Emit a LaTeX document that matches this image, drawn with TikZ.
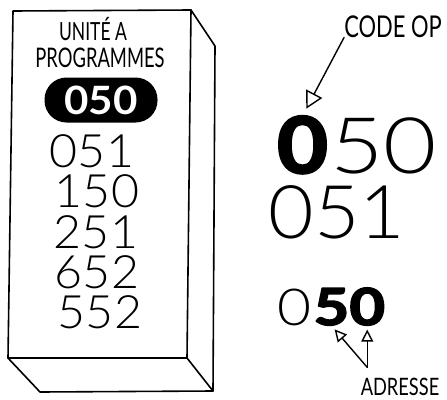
\documentclass[tikz,border=0pt]{standalone}
\usepackage{fontspec}
\usepackage{graphicx}
\setmainfont{Lato}
\newfontfamily\thinfig{Lato Light}
\newfontfamily\heavyfig{Lato}[BoldFeatures={FakeBold=3}]
\newcommand\setfs[1]{\fontsize{#1}{#1}\selectfont}
\newcommand\wide[2]{\scalebox{#1}[1]{#2}}
\usetikzlibrary{arrows.meta}
\begin{document}
\begin{tikzpicture}[x=1pt, y=-1pt, line join=round, line cap=round,
  edge/.style={line width=1.6pt, draw=black},
  caps/.style={inner sep=0pt, anchor=base},
  numline/.style={inner sep=0pt, anchor=base, font=\thinfig\setfs{46}},
  bignum/.style={inner sep=0pt, anchor=base west},
  openhead/.style={line width=1.4pt, -{Triangle[open, length=17pt, width=18pt, line width=1.4pt]}},
  smallhead/.style={line width=1.4pt, -{Triangle[open, length=12pt, width=12pt, line width=1.4pt]}}
]
\useasboundingbox (0,0) rectangle (447,399);

% the program unit as a block: front face, side and base
\draw[edge] (13,11) -- (191,10) -- (187,358) -- (8,358) -- cycle;
\draw[edge] (191,10) -- (215,46) -- (213,391) -- (40,392) -- (8,358);
\draw[edge] (187,358) -- (213,391);

% title on the front face
\node[caps, font=\setfs{25}] (title1) at (93,40) {\wide{0.7}{UNITÉ A}};
\node[caps, font=\setfs{27}] (title2) at (100,67) {\wide{0.68}{PROGRAMMES}};

% current instruction, highlighted
\node[fill=black, rounded corners=22pt, minimum width=113pt, minimum height=45pt,
      inner sep=0pt, text=white, font=\bfseries\setfs{39}] (current) at (101,100) {\wide{1.08}{050}};

% following instructions in memory
\node[numline] (i1) at (92,167) {\wide{1.05}{051}};
\node[numline] (i2) at (97,207) {\wide{1.05}{150}};
\node[numline] (i3) at (96,248) {\wide{1.05}{251}};
\node[numline] (i4) at (97,288) {\wide{1.05}{652}};
\node[numline] (i5) at (100,328) {\wide{1.05}{552}};

% instruction split: operation code
\node[bignum, font=\heavyfig\bfseries\setfs{78}] (opc) at (277,173) {\wide{1.12}{0}};
\node[bignum, font=\thinfig\setfs{78}] (opr) at ([xshift=2pt]opc.base east) {\wide{1.18}{50}};
\node[inner sep=0pt, anchor=base, font=\thinfig\setfs{74}] (nxt) at (337,238) {\wide{1.06}{051}};

% instruction split: address
\node[bignum, font=\thinfig\setfs{51}] (lo0) at (277,325) {\wide{1.15}{0}};
\node[bignum, font=\heavyfig\bfseries\setfs{51}] (lo5) at ([xshift=2pt]lo0.base east) {\wide{1.2}{5}};
\node[bignum, font=\heavyfig\bfseries\setfs{51}] (lo50) at (lo5.base east) {\wide{1.2}{0}};

% labels
\node[caps, font=\setfs{30}] (codeop) at (393,37) {\wide{0.73}{CODE OP}};
\node[caps, font=\setfs{24}] (adresse) at (400,395) {\wide{0.76}{ADRESSE}};

% pointers
\draw[openhead, shorten >=8pt] (codeop.south west) -- (opc.north);
\path (adresse.north -| lo50.south) ++(0,-10) coordinate (fork);
\draw[smallhead, shorten >=5pt] (fork) -- (lo5.south);
\draw[smallhead, shorten >=4pt] (fork) -- (lo50.south);
\end{tikzpicture}
\end{document}
